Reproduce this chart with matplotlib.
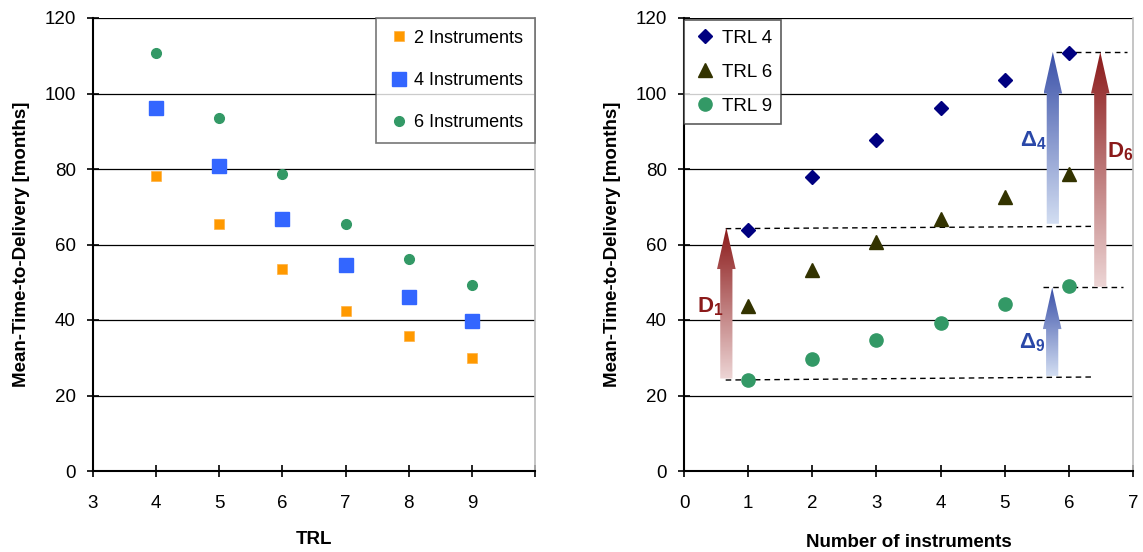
import numpy as np
import matplotlib
matplotlib.use("Agg")
import matplotlib.pyplot as plt
from matplotlib.patches import FancyArrow

plt.rcParams['font.family'] = ['Liberation Sans', 'DejaVu Sans']
plt.rcParams['mathtext.fontset'] = 'custom'
plt.rcParams['mathtext.rm'] = 'Liberation Sans'
plt.rcParams['mathtext.bf'] = 'Liberation Sans:bold'
plt.rcParams['mathtext.it'] = 'Liberation Sans:italic'

# ---------------- data ----------------
trl = [4, 5, 6, 7, 8, 9]
instr2 = [78.1, 65.4, 53.5, 42.4, 35.8, 29.9]
instr4 = [96.2, 80.8, 66.8, 54.6, 46.1, 39.7]
instr6 = [110.7, 93.5, 78.7, 65.4, 56.2, 49.3]

n_instr = [1, 2, 3, 4, 5, 6]
trl4 = [63.8, 77.8, 87.8, 96.2, 103.7, 110.8]
trl6 = [43.7, 53.2, 60.7, 66.8, 72.6, 78.6]
trl9 = [24.0, 29.6, 34.7, 39.3, 44.3, 48.9]

left_xticks = [3, 4, 5, 6, 7, 8, 9, 10]
left_xticklabels = ['3', '4', '5', '6', '7', '8', '9', '']
right_xticks = [0, 1, 2, 3, 4, 5, 6, 7]
yticks = [0, 20, 40, 60, 80, 100, 120]

fig = plt.figure(figsize=(11.43, 5.52), dpi=100)
W, H = 1143, 552
axL = fig.add_axes([93 / W, 1 - 471 / H, (535 - 93) / W, (471 - 18) / H])
axR = fig.add_axes([684 / W, 1 - 471 / H, (1133 - 684) / W, (471 - 18) / H])


def style(ax, xlim):
    ax.set_xlim(*xlim)
    ax.set_ylim(0, 120)
    ax.set_yticks(yticks)
    for y in yticks[1:]:
        ax.axhline(y, color='black', lw=0.9, zorder=1)
    ax.spines['top'].set_visible(False)
    ax.spines['right'].set_color('#bbbbbb')
    ax.spines['right'].set_linewidth(1.2)
    ax.spines['left'].set_linewidth(1.5)
    ax.spines['bottom'].set_linewidth(1.5)
    ax.tick_params(axis='both', direction='inout', length=8, width=1.2,
                   labelsize=13.5)
    ax.tick_params(axis='x', pad=13)
    ax.tick_params(axis='y', pad=8.5)


# ---------------- left ----------------
style(axL, (3, 10))
axL.set_xticks(left_xticks)
axL.set_xticklabels(left_xticklabels)
axL.plot(trl, instr2, 's', color='#FF9900', ms=7.5, mec='#FFB040', mew=0.5,
         ls='none', label='2 Instruments', zorder=3)
axL.plot(trl, instr4, 's', color='#3366FF', ms=9.5, mec='#3366FF',
         ls='none', label='4 Instruments', zorder=3)
axL.plot(trl, instr6, 'o', color='#339966', ms=7, mec='#339966',
         ls='none', label='6 Instruments', zorder=3)
axL.set_xlabel('TRL', fontsize=13.5, fontweight='bold', labelpad=14)
axL.set_ylabel('Mean-Time-to-Delivery [months]', fontsize=13.5,
               fontweight='bold', labelpad=10)
legL = axL.legend(loc='upper right', bbox_to_anchor=(1.0, 1.0),
                  fontsize=13.0, frameon=True, fancybox=False,
                  borderpad=0.65, labelspacing=1.4, handlelength=1.2,
                  handletextpad=0.25, borderaxespad=0.0)
legL.get_frame().set_edgecolor('#555555')
legL.get_frame().set_linewidth(1.2)
legL.set_zorder(5)

# ---------------- right ----------------
style(axR, (0, 7))
axR.set_xticks(right_xticks)
axR.plot(n_instr, trl4, 'D', color='#000080', ms=7.5, ls='none',
         label='TRL 4', zorder=3)
axR.plot(n_instr, trl6, '^', color='#333300', ms=9.5, ls='none',
         label='TRL 6', zorder=3)
axR.plot(n_instr, trl9, 'o', color='#339966', ms=9.5, ls='none',
         label='TRL 9', zorder=3)
axR.set_xlabel('Number of instruments', fontsize=13.5, fontweight='bold',
               labelpad=16)
axR.set_ylabel('Mean-Time-to-Delivery [months]', fontsize=13.5,
               fontweight='bold', labelpad=10)
legR = axR.legend(loc='upper left', bbox_to_anchor=(0.0, 0.995),
                  fontsize=13.5, frameon=True, fancybox=False,
                  borderpad=0.5, labelspacing=0.9, handlelength=1.2,
                  handletextpad=0.3, borderaxespad=0.0)
legR.get_frame().set_edgecolor('#333333')
legR.get_frame().set_linewidth(1.2)
legR.set_zorder(5)

# dashed reference lines
dash = dict(color='black', lw=1.0, ls=(0, (4, 3)), zorder=2)
axR.plot([5.8, 6.9], [111.0, 111.0], **dash)
axR.plot([0.65, 6.35], [64.2, 64.8], **dash)
axR.plot([0.65, 6.35], [24.1, 24.9], **dash)
axR.plot([5.6, 6.85], [48.8, 48.8], **dash)


def grad_arrow(ax, x, y0, y1, ctop, cbot):
    shaft_w = 0.19
    head_w = 0.29
    head_l = 11.0
    arr = FancyArrow(x, y0, 0, y1 - y0, width=shaft_w, head_width=head_w,
                     head_length=head_l, length_includes_head=True,
                     facecolor='none', edgecolor='none', zorder=4)
    ax.add_patch(arr)
    ctop = np.array(matplotlib.colors.to_rgb(ctop))
    cbot = np.array(matplotlib.colors.to_rgb(cbot))
    t = np.linspace(0, 1, 256)[:, None]
    img = (cbot[None, :] * (1 - t) + ctop[None, :] * t)[:, None, :]
    im = ax.imshow(img, extent=[x - head_w / 2, x + head_w / 2, y0, y1],
                   origin='lower', aspect='auto', zorder=4,
                   interpolation='bilinear')
    im.set_clip_path(arr)


red_top, red_bot = '#8B1A1A', '#EDD5D5'
blue_top, blue_bot = '#3A50A8', '#D3DEF2'
grad_arrow(axR, 0.66, 24.5, 64.5, red_top, red_bot)
grad_arrow(axR, 5.75, 65.5, 111.0, blue_top, blue_bot)
grad_arrow(axR, 6.49, 48.8, 111.0, red_top, red_bot)
grad_arrow(axR, 5.74, 25.2, 48.6, blue_top, blue_bot)
axR.set_xlim(0, 7)
axR.set_ylim(0, 120)

lab = dict(fontsize=16, ha='left', va='center', zorder=6)
axR.text(0.20, 43.5, r'$\mathbf{D_1}$', color='#8B1A1A', **lab)
axR.text(5.24, 87.5, r'$\mathbf{\Delta_4}$', color='#2A48A8', **lab)
axR.text(6.60, 84.5, r'$\mathbf{D_6}$', color='#8B1A1A', **lab)
axR.text(5.23, 34.0, r'$\mathbf{\Delta_9}$', color='#2A48A8', **lab)

fig.savefig('out.png', dpi=100)
